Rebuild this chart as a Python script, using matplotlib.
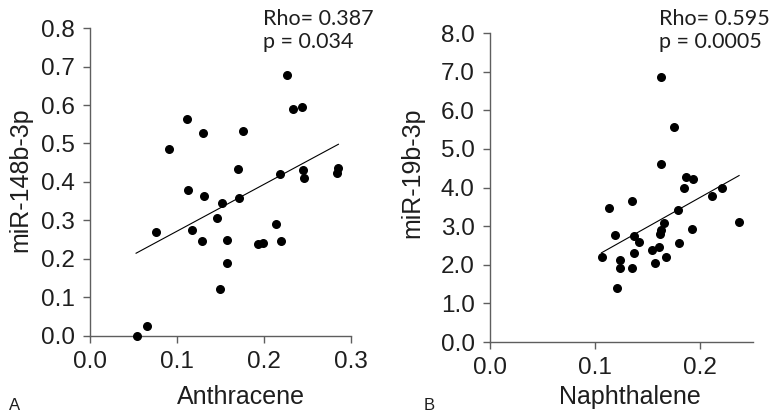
import numpy as np
import matplotlib
matplotlib.use("Agg")
import matplotlib.pyplot as plt
from matplotlib.ticker import FormatStrFormatter

# panel A: anthracene vs miR-148b-3p
anthracene = [0.054, 0.065, 0.076, 0.091, 0.111, 0.113, 0.117, 0.129, 0.130, 0.131,
              0.146, 0.149, 0.152, 0.157, 0.158, 0.170, 0.171, 0.176, 0.193, 0.199,
              0.214, 0.218, 0.220, 0.226, 0.233, 0.244, 0.245, 0.246, 0.285, 0.284]
mir148b = [0.000, 0.027, 0.270, 0.485, 0.563, 0.378, 0.276, 0.248, 0.526, 0.364,
           0.306, 0.121, 0.346, 0.250, 0.190, 0.435, 0.358, 0.532, 0.240, 0.242,
           0.291, 0.420, 0.248, 0.678, 0.590, 0.596, 0.431, 0.411, 0.437, 0.424]
trend_a_x = [0.053, 0.2856]
trend_a_y = [0.215, 0.498]

# panel B: naphthalene vs miR-19b-3p
naphthalene = [0.106, 0.113, 0.119, 0.121, 0.124, 0.124, 0.135, 0.135, 0.137, 0.137,
               0.142, 0.154, 0.157, 0.161, 0.162, 0.163, 0.165, 0.163, 0.163, 0.167,
               0.175, 0.179, 0.180, 0.184, 0.186, 0.192, 0.193, 0.211, 0.221, 0.237]
mir19b = [2.21, 3.46, 2.77, 1.39, 2.13, 1.91, 3.65, 1.91, 2.30, 2.74,
          2.60, 2.38, 2.05, 2.47, 2.79, 2.91, 3.07, 4.62, 6.87, 2.19,
          5.57, 3.41, 2.56, 4.00, 4.28, 2.93, 4.23, 3.77, 3.99, 3.11]
trend_b_x = [0.106, 0.2368]
trend_b_y = [2.31, 4.31]

AX_COL = "#5e5e5e"
TXT = "#1e1e1e"

fig = plt.figure(figsize=(7.73, 4.18), dpi=100)
axA = fig.add_axes([0.1164, 0.1962, 0.3376, 0.7368])
axB = fig.add_axes([0.6339, 0.1818, 0.3402, 0.7392])


def style(ax, xticks, yticks):
    for s in ["top", "right"]:
        ax.spines[s].set_visible(False)
    for s in ["left", "bottom"]:
        ax.spines[s].set_color(AX_COL)
        ax.spines[s].set_linewidth(1.0)
    ax.set_xticks(xticks)
    ax.set_yticks(yticks)
    ax.xaxis.set_major_formatter(FormatStrFormatter("%.1f"))
    ax.yaxis.set_major_formatter(FormatStrFormatter("%.1f"))
    ax.tick_params(direction="out", length=5, width=1.0, color=AX_COL,
                   labelsize=17.5, labelcolor=TXT, pad=6)
    for lab in ax.get_xticklabels() + ax.get_yticklabels():
        lab.set_family("Liberation Sans")


# --- A
axA.scatter(anthracene, mir148b, s=30, color="black", zorder=3, clip_on=False)
axA.plot(trend_a_x, trend_a_y, color="black", linewidth=0.8)
axA.set_xlim(0, 0.3)
axA.set_ylim(0, 0.8)
style(axA, np.arange(0, 0.31, 0.1), np.arange(0, 0.81, 0.1))
axA.set_xlabel("Anthracene", fontsize=18, family="Liberation Sans", color=TXT)
axA.set_ylabel("miR-148b-3p", fontsize=18, family="Liberation Sans", color=TXT)
axA.xaxis.set_label_coords(0.579, -0.198)
axA.yaxis.set_label_coords(-0.268, 0.506)
axA.xaxis.label.set_va("center")
axA.yaxis.label.set_va("center")
axA.text(0.663, 1.03, "Rho= 0.387", transform=axA.transAxes, fontsize=15.5,
         family="Lato", color=TXT, va="center")
axA.text(0.663, 0.955, "p = 0.034", transform=axA.transAxes, fontsize=15.5,
         family="Lato", color=TXT, va="center")

# --- B
axB.scatter(naphthalene, mir19b, s=30, color="black", zorder=3, clip_on=False)
axB.plot(trend_b_x, trend_b_y, color="black", linewidth=0.8)
axB.set_xlim(0, 0.25)
axB.set_ylim(0, 8)
style(axB, [0.0, 0.1, 0.2], np.arange(0, 8.1, 1.0))
axB.set_xlabel("Naphthalene", fontsize=18, family="Liberation Sans", color=TXT)
axB.set_ylabel("miR-19b-3p", fontsize=18, family="Liberation Sans", color=TXT)
axB.xaxis.set_label_coords(0.53, -0.179)
axB.yaxis.set_label_coords(-0.297, 0.547)
axB.xaxis.label.set_va("center")
axB.yaxis.label.set_va("center")
axB.text(0.643, 1.045, "Rho= 0.595", transform=axB.transAxes, fontsize=15.5,
         family="Lato", color=TXT, va="center")
axB.text(0.643, 0.97, "p = 0.0005", transform=axB.transAxes, fontsize=15.5,
         family="Lato", color=TXT, va="center")

fig.text(0.012, 0.03, "A", fontsize=12, family="Liberation Sans", color=TXT, va="center")
fig.text(0.548, 0.03, "B", fontsize=12, family="Liberation Sans", color=TXT, va="center")

fig.savefig("out.png", dpi=100, facecolor="white")
